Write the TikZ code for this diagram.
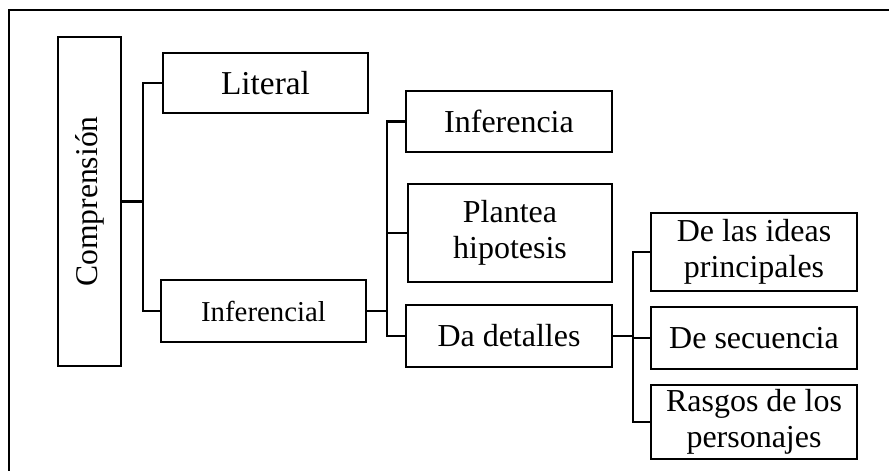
\documentclass[tikz,border=0pt]{standalone}
\usepackage{fontspec}
\setmainfont{Liberation Serif}
\usetikzlibrary{positioning}

\begin{document}
\begin{tikzpicture}[
    x=0.02cm, y=-0.02cm,
    box/.style={draw, rectangle, line width=1.3pt, inner sep=0pt, align=center,
        minimum width=4.12cm, minimum height=1.24cm, font=\fontsize{18.2}{20.5}\selectfont},
    link/.style={line width=1.3pt}
]
\useasboundingbox (0,0) rectangle (889,470);
\clip (0,0) rectangle (889,470);

% marco exterior
\draw[line width=1.7pt] (9,10) rectangle (900,480);

% nivel 0 (texto girado)
\node[box, rotate=90, minimum width=6.58cm, minimum height=1.26cm,
      font=\fontsize{18}{20}\selectfont] (compr) at (89.5,201.5) {Comprensión};

% nivel 1
\node[box, minimum width=4.1cm, minimum height=1.2cm, font=\fontsize{19}{21}\selectfont] (literal) at (265.5,83) {Literal};
\node[box, minimum width=4.1cm, font=\fontsize{16.4}{18}\selectfont] (inferencial) at (263.5,311) {Inferencial};

% nivel 2
\node[box, minimum height=1.22cm] (inferencia) at (509,121.5) {Inferencia};
\node[box, minimum width=4.08cm, minimum height=1.96cm] (plantea) at (510,233) {Plantea\\hipotesis};
\node[box] (detalles) at (509,336) {Da detalles};

% nivel 3
\node[box, minimum height=1.56cm] (ideas) at (754,252) {De las ideas\\principales};
\node[box] (secuencia) at (754,338) {De secuencia};
\node[box, minimum height=1.48cm] (rasgos) at (754,422) {Rasgos de los\\personajes};

% conectores
\draw[link] (compr.south) -- ++(21,0) coordinate (j1);
\draw[link] (j1) |- (literal.west);
\draw[link] (j1) |- (inferencial.west);

\draw[link] (inferencial.east) -- ++(20,0) coordinate (j2);
\draw[link] (j2) |- (inferencia.west);
\draw[link] (j2) |- (plantea.west);
\draw[link] (j2) |- (detalles.west);

\draw[link] (detalles.east) -- ++(20,0) coordinate (j3);
\draw[link] (j3) |- (ideas.west);
\draw[link] (j3) |- (secuencia.west);
\draw[link] (j3) |- (rasgos.west);

\end{tikzpicture}
\end{document}
